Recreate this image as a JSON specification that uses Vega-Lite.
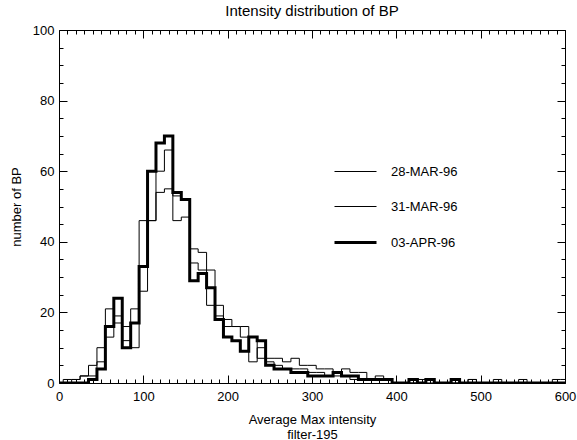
{
  "$schema": "https://vega.github.io/schema/vega-lite/v6.json",
  "width": 506,
  "height": 353,
  "autosize": {"type": "none"},
  "padding": {"left": 59, "top": 30, "right": 12, "bottom": 57},
  "background": "white",
  "config": {"view": {"stroke": "black", "strokeWidth": 1}, "font": "Liberation Sans", "legend": {"rowPadding": 6}},
  "title": {"text": "Intensity distribution of BP", "fontSize": 15, "fontWeight": "normal", "font": "Liberation Sans", "color": "black", "offset": 5, "anchor": "middle"},
  "data": {"values": [
    {"x": 0, "28-MAR-96": 0, "31-MAR-96": 0, "03-APR-96": 0},
    {"x": 10, "28-MAR-96": 0, "31-MAR-96": 1, "03-APR-96": 0},
    {"x": 20, "28-MAR-96": 1, "31-MAR-96": 1, "03-APR-96": 0},
    {"x": 30, "28-MAR-96": 2, "31-MAR-96": 2, "03-APR-96": 0},
    {"x": 40, "28-MAR-96": 2, "31-MAR-96": 5, "03-APR-96": 1},
    {"x": 50, "28-MAR-96": 6, "31-MAR-96": 10, "03-APR-96": 4},
    {"x": 60, "28-MAR-96": 13, "31-MAR-96": 21, "03-APR-96": 16},
    {"x": 70, "28-MAR-96": 17, "31-MAR-96": 19, "03-APR-96": 24},
    {"x": 80, "28-MAR-96": 12, "31-MAR-96": 16, "03-APR-96": 10},
    {"x": 90, "28-MAR-96": 10, "31-MAR-96": 21, "03-APR-96": 17},
    {"x": 100, "28-MAR-96": 26, "31-MAR-96": 46, "03-APR-96": 33},
    {"x": 110, "28-MAR-96": 46, "31-MAR-96": 46, "03-APR-96": 60},
    {"x": 120, "28-MAR-96": 60, "31-MAR-96": 54, "03-APR-96": 68},
    {"x": 130, "28-MAR-96": 66, "31-MAR-96": 55, "03-APR-96": 70},
    {"x": 140, "28-MAR-96": 46, "31-MAR-96": 53, "03-APR-96": 54},
    {"x": 150, "28-MAR-96": 47, "31-MAR-96": 52, "03-APR-96": 52},
    {"x": 160, "28-MAR-96": 38, "31-MAR-96": 34, "03-APR-96": 29},
    {"x": 170, "28-MAR-96": 37, "31-MAR-96": 32, "03-APR-96": 31},
    {"x": 180, "28-MAR-96": 22, "31-MAR-96": 32, "03-APR-96": 27},
    {"x": 190, "28-MAR-96": 19, "31-MAR-96": 22, "03-APR-96": 18},
    {"x": 200, "28-MAR-96": 16, "31-MAR-96": 18, "03-APR-96": 13},
    {"x": 210, "28-MAR-96": 16, "31-MAR-96": 16, "03-APR-96": 12},
    {"x": 220, "28-MAR-96": 16, "31-MAR-96": 13, "03-APR-96": 9},
    {"x": 230, "28-MAR-96": 13, "31-MAR-96": 6, "03-APR-96": 13},
    {"x": 240, "28-MAR-96": 7, "31-MAR-96": 10, "03-APR-96": 12},
    {"x": 250, "28-MAR-96": 7, "31-MAR-96": 6, "03-APR-96": 5},
    {"x": 260, "28-MAR-96": 7, "31-MAR-96": 5, "03-APR-96": 4},
    {"x": 270, "28-MAR-96": 6, "31-MAR-96": 4, "03-APR-96": 4},
    {"x": 280, "28-MAR-96": 7, "31-MAR-96": 4, "03-APR-96": 3},
    {"x": 290, "28-MAR-96": 5, "31-MAR-96": 4, "03-APR-96": 3},
    {"x": 300, "28-MAR-96": 5, "31-MAR-96": 3, "03-APR-96": 2},
    {"x": 310, "28-MAR-96": 4, "31-MAR-96": 3, "03-APR-96": 2},
    {"x": 320, "28-MAR-96": 4, "31-MAR-96": 2, "03-APR-96": 2},
    {"x": 330, "28-MAR-96": 3, "31-MAR-96": 2, "03-APR-96": 3},
    {"x": 340, "28-MAR-96": 4, "31-MAR-96": 2, "03-APR-96": 2},
    {"x": 350, "28-MAR-96": 3, "31-MAR-96": 1, "03-APR-96": 2},
    {"x": 360, "28-MAR-96": 3, "31-MAR-96": 1, "03-APR-96": 1},
    {"x": 370, "28-MAR-96": 1, "31-MAR-96": 1, "03-APR-96": 1},
    {"x": 380, "28-MAR-96": 2, "31-MAR-96": 1, "03-APR-96": 1},
    {"x": 390, "28-MAR-96": 1, "31-MAR-96": 1, "03-APR-96": 1},
    {"x": 400, "28-MAR-96": 0, "31-MAR-96": 0, "03-APR-96": 0},
    {"x": 410, "28-MAR-96": 0, "31-MAR-96": 0, "03-APR-96": 0},
    {"x": 420, "28-MAR-96": 0, "31-MAR-96": 0, "03-APR-96": 1},
    {"x": 430, "28-MAR-96": 1, "31-MAR-96": 0, "03-APR-96": 0},
    {"x": 440, "28-MAR-96": 1, "31-MAR-96": 0, "03-APR-96": 1},
    {"x": 450, "28-MAR-96": 0, "31-MAR-96": 0, "03-APR-96": 0},
    {"x": 460, "28-MAR-96": 0, "31-MAR-96": 0, "03-APR-96": 0},
    {"x": 470, "28-MAR-96": 0, "31-MAR-96": 0, "03-APR-96": 1},
    {"x": 480, "28-MAR-96": 0, "31-MAR-96": 0, "03-APR-96": 0},
    {"x": 490, "28-MAR-96": 1, "31-MAR-96": 1, "03-APR-96": 0},
    {"x": 500, "28-MAR-96": 0, "31-MAR-96": 0, "03-APR-96": 0},
    {"x": 510, "28-MAR-96": 0, "31-MAR-96": 0, "03-APR-96": 0},
    {"x": 520, "28-MAR-96": 0, "31-MAR-96": 1, "03-APR-96": 0},
    {"x": 530, "28-MAR-96": 0, "31-MAR-96": 0, "03-APR-96": 0},
    {"x": 540, "28-MAR-96": 0, "31-MAR-96": 0, "03-APR-96": 0},
    {"x": 550, "28-MAR-96": 0, "31-MAR-96": 1, "03-APR-96": 0},
    {"x": 560, "28-MAR-96": 0, "31-MAR-96": 0, "03-APR-96": 0},
    {"x": 570, "28-MAR-96": 0, "31-MAR-96": 0, "03-APR-96": 0},
    {"x": 580, "28-MAR-96": 0, "31-MAR-96": 0, "03-APR-96": 0},
    {"x": 590, "28-MAR-96": 0, "31-MAR-96": 1, "03-APR-96": 0},
    {"x": 600, "28-MAR-96": 0, "31-MAR-96": 1, "03-APR-96": 0}
  ]},
  "transform": [{"fold": ["28-MAR-96", "31-MAR-96", "03-APR-96"], "as": ["date", "n"]}],
  "layer": [
    {
      "mark": {"type": "line", "interpolate": "step", "clip": true},
      "encoding": {
        "x": {"field": "x", "type": "quantitative",
          "scale": {"domain": [0, 600], "nice": false, "zero": false},
          "axis": {"orient": "bottom", "values": [0,10,20,30,40,50,60,70,80,90,100,110,120,130,140,150,160,170,180,190,200,210,220,230,240,250,260,270,280,290,300,310,320,330,340,350,360,370,380,390,400,410,420,430,440,450,460,470,480,490,500,510,520,530,540,550,560,570,580,590,600],
            "domain": false, "grid": false, "tickColor": "black", "tickWidth": 1,
            "tickSize": {"condition": {"test": "datum.value % 100 === 0", "value": -8}, "value": -4},
            "labelExpr": "datum.value % 100 === 0 ? datum.label : ''",
            "labelFont": "Liberation Sans", "labelFontSize": 13, "labelColor": "black",
            "labelPadding": 15, "labelFlush": false, "labelOverlap": false, "labelBound": false,
            "title": ["Average Max intensity", "filter-195"], "titleFont": "Liberation Sans", "titleFontSize": 13, "titleFontWeight": "normal", "titleColor": "black", "titlePadding": 6, "titleLineHeight": 15}},
        "y": {"field": "n", "type": "quantitative",
          "scale": {"domain": [0, 100], "nice": false},
          "axis": {"orient": "left", "values": [0,5,10,15,20,25,30,35,40,45,50,55,60,65,70,75,80,85,90,95,100],
            "domain": false, "grid": false, "tickColor": "black", "tickWidth": 1,
            "tickSize": {"condition": {"test": "datum.value % 20 === 0", "value": -8}, "value": -4},
            "labelExpr": "datum.value % 20 === 0 ? datum.label : ''",
            "labelFont": "Liberation Sans", "labelFontSize": 13, "labelColor": "black",
            "labelPadding": 13, "labelFlush": false, "labelOverlap": false, "labelBound": false,
            "title": "number of BP", "titleFont": "Liberation Sans", "titleFontSize": 13, "titleFontWeight": "normal", "titleColor": "black", "titlePadding": 9}},
        "stroke": {"field": "date", "type": "ordinal",
          "scale": {"type": "ordinal", "domain": ["28-MAR-96", "31-MAR-96", "03-APR-96"], "range": ["black", "black", "black"]},
          "legend": {"orient": "none", "legendX": 274, "legendY": 120, "title": null, "symbolType": "stroke", "symbolSize": 1764, "labelFont": "Liberation Sans", "labelFontSize": 13, "labelColor": "black", "labelOffset": 13, "rowPadding": 6, "padding": 0}},
        "strokeWidth": {"field": "date", "type": "ordinal",
          "scale": {"type": "ordinal", "domain": ["28-MAR-96", "31-MAR-96", "03-APR-96"], "range": [1, 1, 3]},
          "legend": {"orient": "none", "legendX": 274, "legendY": 120, "title": null, "symbolType": "stroke", "symbolSize": 1764, "labelFont": "Liberation Sans", "labelFontSize": 13, "labelColor": "black", "labelOffset": 13, "rowPadding": 6, "padding": 0}}
      }
    },
    {
      "mark": {"type": "point", "opacity": 0},
      "encoding": {
        "x": {"field": "x", "type": "quantitative",
          "scale": {"domain": [0, 600], "nice": false, "zero": false},
          "axis": {"orient": "top", "values": [0,10,20,30,40,50,60,70,80,90,100,110,120,130,140,150,160,170,180,190,200,210,220,230,240,250,260,270,280,290,300,310,320,330,340,350,360,370,380,390,400,410,420,430,440,450,460,470,480,490,500,510,520,530,540,550,560,570,580,590,600],
            "domain": false, "grid": false, "labels": false, "title": null, "tickColor": "black", "tickWidth": 1,
            "tickSize": {"condition": {"test": "datum.value % 100 === 0", "value": -8}, "value": -4}}},
        "y": {"field": "n", "type": "quantitative",
          "scale": {"domain": [0, 100], "nice": false},
          "axis": {"orient": "right", "values": [0,5,10,15,20,25,30,35,40,45,50,55,60,65,70,75,80,85,90,95,100],
            "domain": false, "grid": false, "labels": false, "title": null, "tickColor": "black", "tickWidth": 1,
            "tickSize": {"condition": {"test": "datum.value % 20 === 0", "value": -8}, "value": -4}}}
      }
    }
  ],
  "resolve": {"axis": {"x": "independent", "y": "independent"}}
}
